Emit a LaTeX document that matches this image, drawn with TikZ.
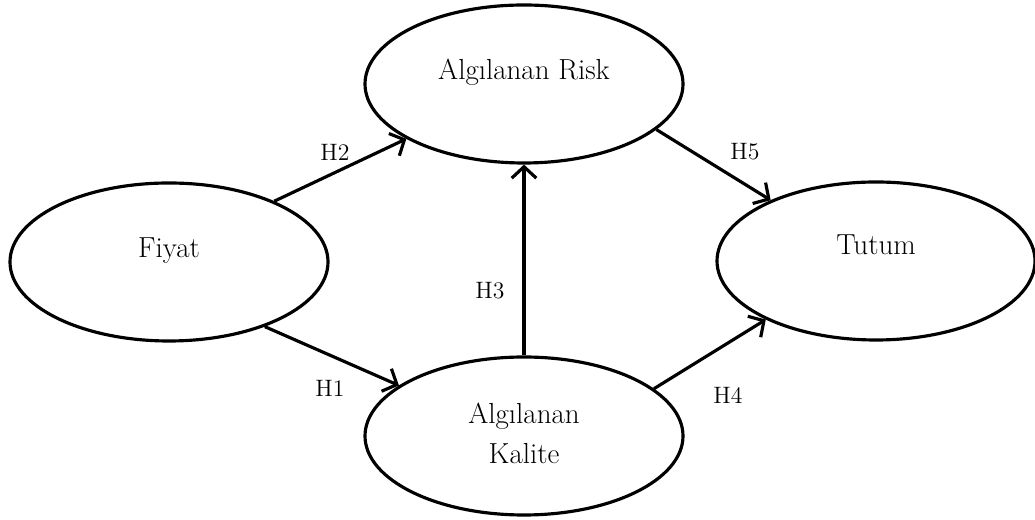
\documentclass[tikz,border=0pt]{standalone}
\usepackage{tikz}
\usetikzlibrary{shapes.geometric,arrows.meta}

\begin{document}
\begin{tikzpicture}[scale=1,
  construct/.style={ellipse,draw,line width=1.8pt,minimum width=6.36cm,minimum height=3.16cm,inner sep=0pt},
  hyp/.style={-{Straight Barb[length=6.5pt,width=14pt]},line width=1.8pt},
  vname/.style={font=\fontsize{16.5}{22.7}\selectfont},
  hname/.style={font=\fontsize{13.5}{16}\selectfont}]

\useasboundingbox (0,0) rectangle (20.7,10.4);

% Constructs
\node[construct] (fiyat) at (3.38,5.16) {};
\node[vname,anchor=base] (fiyatlbl) at (3.38,5.24) {Fiyat};

\node[construct] (risk) at (10.48,8.72) {};
\node[vname,anchor=base] (risklbl) at (10.48,8.8) {Algılanan Risk};

\node[construct] (kalite) at (10.48,1.68) {};
\node[vname,align=center] (kalitelbl) at (10.48,1.74) {Algılanan\\Kalite};

\node[construct] (tutum) at (17.52,5.18) {};
\node[vname,anchor=base] (tutumlbl) at (17.52,5.3) {Tutum};

% Hypotheses
\draw[hyp] (fiyat.30.4) -- (risk.205);
\node[hname] (h2) at (6.7,7.36) {H2};

\draw[hyp] (fiyat.-34.7) -- (kalite.158.7);
\node[hname] (h1) at (6.6,2.64) {H1};

\draw[hyp] (kalite.north) -- (risk.south);
\node[hname] (h3) at (9.8,4.58) {H3};

\draw[hyp] (risk.-19.4) -- (tutum.150.2);
\node[hname] (h5) at (14.9,7.36) {H5};

\draw[hyp] (kalite.20.8) -- (tutum.208.6);
\node[hname] (h4) at (14.56,2.5) {H4};

\end{tikzpicture}
\end{document}
